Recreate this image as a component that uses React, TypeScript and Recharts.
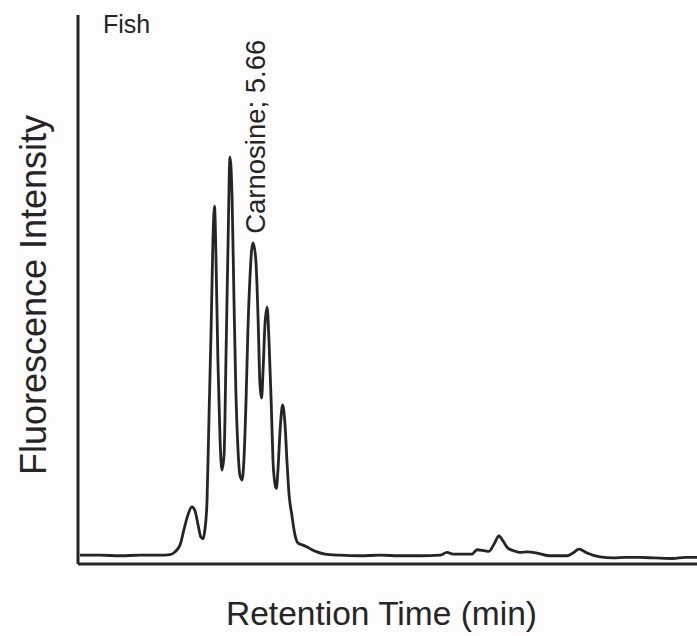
import React from 'react';
import { LineChart, Line, XAxis, YAxis, Label, ReferenceDot } from 'recharts';

// retention time (min) and fluorescence intensity (arbitrary units, 0-100) of the trace
const retentionTime = [
  0.06, 0.71, 1.36, 2.0, 2.65, 2.97, 3.13, 3.3, 3.42, 3.55, 3.68, 3.78, 3.88, 3.97, 4.04,
  4.1, 4.17, 4.23, 4.3, 4.36, 4.41, 4.46, 4.52, 4.59, 4.65, 4.72, 4.78, 4.85, 4.91, 4.98,
  5.04, 5.1, 5.17, 5.23, 5.3, 5.36, 5.43, 5.49, 5.56, 5.61, 5.66, 5.75, 5.82, 5.88, 5.93,
  5.98, 6.04, 6.11, 6.17, 6.24, 6.3, 6.37, 6.41, 6.46, 6.53, 6.61, 6.69, 6.75, 6.82, 6.91,
  7.01, 7.11, 7.24, 7.4, 7.56, 7.72, 7.98, 8.47, 9.11, 9.76, 10.4, 11.05, 11.7, 11.92, 12.12,
  12.5, 12.73, 12.89, 13.15, 13.28, 13.44, 13.6, 13.73, 13.89, 14.09, 14.28, 14.51, 14.83, 15.25,
  15.8, 15.99, 16.19, 16.32, 16.45, 16.87, 17.29, 17.67, 18.15, 18.64, 19.22, 19.61, 20.0,
];

const intensity = [
  1.6, 1.6, 1.5, 1.6, 1.6, 1.7, 2.2, 3.5, 6.2, 8.9, 10.4, 9.7, 7.1, 4.9, 4.6,
  6.2, 11.7, 26.2, 42.6, 59.0, 65.2, 55.4, 37.2, 22.6, 17.1, 19.9, 37.2, 59.0, 74.1, 66.3,
  48.1, 31.7, 20.8, 16.2, 15.3, 18.9, 29.9, 42.6, 52.6, 57.2, 58.5, 55.0, 44.4, 32.6, 30.2,
  35.3, 43.5, 46.8, 40.8, 29.9, 18.9, 14.4, 13.8, 17.1, 24.4, 29.0, 25.3, 18.9, 12.6, 8.9,
  5.3, 3.8, 3.5, 3.1, 2.6, 2.2, 1.8, 1.6, 1.5, 1.6, 1.5, 1.5, 1.6, 2.1, 1.8,
  1.8, 1.8, 2.6, 2.4, 2.3, 3.6, 5.1, 4.2, 2.9, 2.4, 2.1, 2.2, 2.0, 1.5,
  1.5, 2.0, 2.7, 2.4, 2.0, 1.3, 1.1, 1.2, 1.2, 1.1, 1.0, 1.2, 1.2,
];

const carnosineTime = 5.66;
const carnosineIntensity = 58.5;
const sampleName = 'Fish';

const data = retentionTime.map((t, i) => ({ t, v: intensity[i] }));

const ink = '#252525';
const fontFamily = '"Liberation Sans", Arial, Helvetica, sans-serif';

// eslint-disable-next-line @typescript-eslint/no-explicit-any
const XTitle = ({ viewBox }: any) => (
  <text x={viewBox.x + viewBox.width / 2 - 6} y={viewBox.y + 61} textAnchor="middle"
    fontSize={33.5} fill={ink} fontFamily={fontFamily}>
    Retention Time (min)
  </text>
);

// eslint-disable-next-line @typescript-eslint/no-explicit-any
const YTitle = ({ viewBox }: any) => {
  const x = viewBox.x + 46;
  const y = 295;
  return (
    <g>
      <text x={x} y={y} transform={`rotate(-90, ${x}, ${y})`} textAnchor="middle"
        fontSize={36} fill={ink} fontFamily={fontFamily}>
        Fluorescence Intensity
      </text>
      <text x={viewBox.x + viewBox.width + 25} y={viewBox.y + 18} fontSize={25}
        fill={ink} fontFamily={fontFamily}>
        {sampleName}
      </text>
    </g>
  );
};

// eslint-disable-next-line @typescript-eslint/no-explicit-any
const PeakTag = ({ viewBox }: any) => {
  const x = viewBox.x + 12;
  const y = viewBox.y - 9;
  return (
    <text x={x} y={y} transform={`rotate(-90, ${x}, ${y})`} fontSize={27.5}
      fill={ink} fontFamily={fontFamily}>
      {`Carnosine; ${carnosineTime}`}
    </text>
  );
};

export default function App() {
  return (
    <div style={{ position: 'absolute', left: 0, top: 0, width: 697, height: 636, background: '#fdfdfd' }}>
      <LineChart width={697} height={636} data={data} margin={{ top: 15, right: 0, left: 0, bottom: 0 }}>
        <XAxis type="number" dataKey="t" domain={[0, 20]} tick={false} tickLine={false} height={72}
          axisLine={{ stroke: ink, strokeWidth: 3 }} allowDataOverflow>
          <Label content={XTitle} />
        </XAxis>
        <YAxis type="number" domain={[0, 100]} tick={false} tickLine={false} width={78}
          axisLine={{ stroke: ink, strokeWidth: 3 }} allowDataOverflow>
          <Label content={YTitle} />
        </YAxis>
        <Line type="monotone" dataKey="v" stroke={ink} strokeWidth={2.8} dot={false} isAnimationActive={false} />
        <ReferenceDot x={carnosineTime} y={carnosineIntensity} r={0} stroke="none" fill="none"
          label={<PeakTag />} />
      </LineChart>
    </div>
  );
}
